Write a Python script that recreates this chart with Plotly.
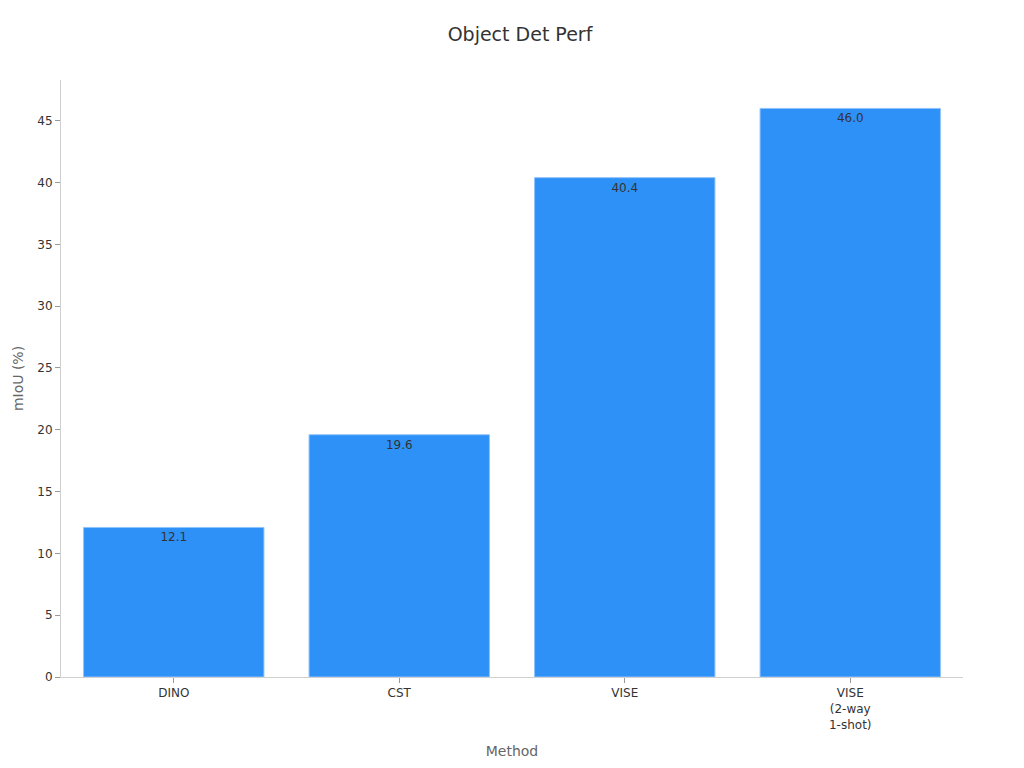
import plotly.graph_objects as go

# data
methods = ["DINO", "CST", "VISE", "VISE<br>(2-way<br>1-shot)"]
miou = [12.1, 19.6, 40.4, 46.0]
value_labels = ["12.1", "19.6", "40.4", "46.0"]

fig = go.Figure()
fig.add_trace(
    go.Bar(
        x=methods,
        y=miou,
        text=value_labels,
        textposition="inside",
        insidetextanchor="end",
        textfont=dict(color="#333333", size=12),
        marker=dict(color="#2E91F8", line=dict(color="#8EC3FA", width=1)),
        width=0.8,
    )
)

fig.update_layout(
    width=1024,
    height=768,
    template="plotly_white",
    font=dict(family="DejaVu Sans, sans-serif", color="#333333"),
    title=dict(text="Object Det Perf", x=0.5, xanchor="center", y=0.975,
               font=dict(size=19, color="#333333")),
    margin=dict(l=53, r=69, t=72, b=99),
    showlegend=False,
    bargap=0.2,
)
fig.update_xaxes(
    title=dict(text="Method", font=dict(size=14, color="#666666"), standoff=15),
    showgrid=False,
    showline=True,
    linecolor="#d0d0d0",
    ticks="outside",
    ticklen=5,
    tickcolor="#999999",
    tickfont=dict(size=12),
)
fig.update_yaxes(
    title=dict(text="mIoU (%)", font=dict(size=14, color="#666666"), standoff=10),
    automargin=False,
    range=[0, 48.3],
    dtick=5,
    showgrid=False,
    showline=True,
    linecolor="#d0d0d0",
    ticks="outside",
    ticklen=5,
    tickcolor="#999999",
    tickfont=dict(size=12),
    zeroline=False,
)

fig.write_html("out.html")
